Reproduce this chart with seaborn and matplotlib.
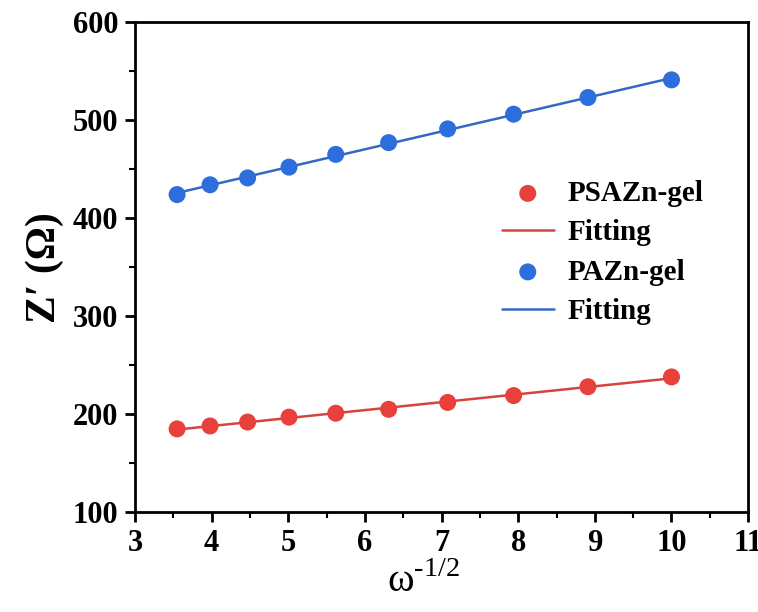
import numpy as np
import pandas as pd
import matplotlib
matplotlib.use("Agg")
import matplotlib.pyplot as plt
import seaborn as sns
from matplotlib.ticker import MultipleLocator

x_vals = [3.55, 3.98, 4.47, 5.01, 5.62, 6.31, 7.08, 7.94, 8.91, 10.0]
psazn = [185, 188, 192, 197, 201, 205, 212, 219, 228, 238]
pazn = [424, 434, 441, 452, 465, 477, 491, 506, 523, 541]
series_names = ["PSAZn-gel", "PAZn-gel"]
point_colors = ["#E8413C", "#2B6EDC"]
line_colors = ["#D6443F", "#3568C4"]

sns.set_style("ticks")
plt.rcParams['font.family'] = ['Liberation Serif', 'DejaVu Serif']
plt.rcParams['mathtext.fontset'] = 'custom'
plt.rcParams['mathtext.rm'] = 'Liberation Serif'
for k in ["text.color", "axes.labelcolor", "xtick.color", "ytick.color", "axes.edgecolor"]:
    plt.rcParams[k] = "black"

fig = plt.figure(figsize=(7.58, 6.12), dpi=100)
ax = fig.add_axes([0.178, 0.163, 0.809, 0.801])

for name, yv, pc, lc in zip(series_names, [psazn, pazn], point_colors, line_colors):
    df = pd.DataFrame({"x": x_vals, "y": yv})
    k, b = np.polyfit(df["x"], df["y"], 1)
    fit = pd.DataFrame({"x": [min(x_vals), max(x_vals)]})
    fit["y"] = k * fit["x"] + b
    sns.scatterplot(data=df, x="x", y="y", ax=ax, color=pc, s=150, edgecolor="none",
                    label=name, zorder=3)
    sns.lineplot(data=fit, x="x", y="y", ax=ax, color=lc, lw=1.8, label="Fitting", zorder=2)

ax.set_xlim(3, 11)
ax.set_ylim(100, 600)
ax.xaxis.set_major_locator(MultipleLocator(1))
ax.xaxis.set_minor_locator(MultipleLocator(0.5))
ax.yaxis.set_major_locator(MultipleLocator(100))
ax.yaxis.set_minor_locator(MultipleLocator(50))
ax.tick_params(which="major", direction="out", length=7, width=2, labelsize=22, pad=5)
ax.tick_params(which="minor", direction="out", length=4, width=1.5)
for lab in ax.get_xticklabels() + ax.get_yticklabels():
    lab.set_fontweight("bold")
for sp in ax.spines.values():
    sp.set_linewidth(2)
    sp.set_visible(True)

ax.set_xlabel(r"ω$^{\text{-1/2}}$", fontsize=29)
ax.xaxis.set_label_coords(0.47, -0.105)
ax.set_ylabel("Z\u2032 (Ω)", fontsize=30, fontweight="bold", labelpad=6)

leg = ax.legend(loc="center left", bbox_to_anchor=(0.555, 0.53), frameon=False,
                prop={"size": 21, "weight": "bold"}, handlelength=1.8,
                handletextpad=0.45, labelspacing=0.42)
fig.savefig("out.png", dpi=100)
